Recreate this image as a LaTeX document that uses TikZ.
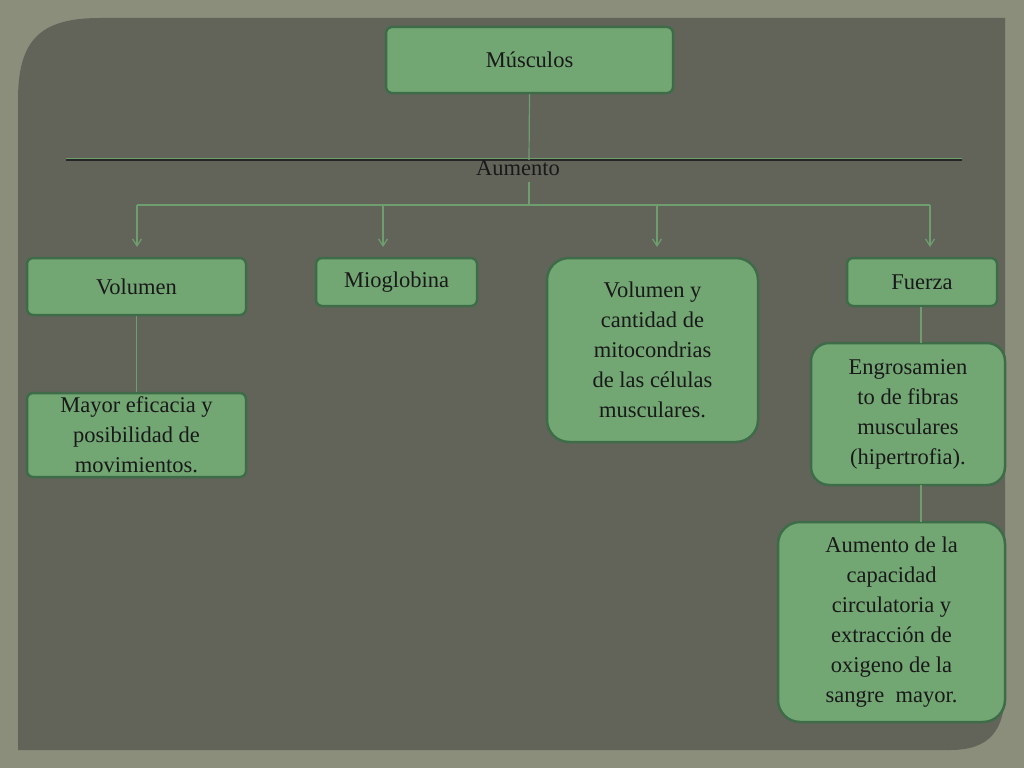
\documentclass[tikz,border=0pt]{standalone}
\usepackage{fontspec}
\setmainfont{Liberation Serif}
\usetikzlibrary{arrows.meta}
\definecolor{frame}{HTML}{8A8E7B}
\definecolor{panel}{HTML}{62645A}
\definecolor{boxfill}{HTML}{72A673}
\definecolor{boxline}{HTML}{3E6B48}
\definecolor{conn}{HTML}{6E9E6E}
\begin{document}
\begin{tikzpicture}[x=1pt,y=-1pt,
  bx/.style={draw=boxline,line width=2.5pt,fill=boxfill,rounded corners=6pt,align=center,font=\fontsize{22.5}{30}\selectfont,text=black!90,inner sep=0pt},
  cn/.style={draw=conn,line width=1.2pt},
  ar/.style={cn,-{Straight Barb[length=7pt,width=9pt]}}]
\fill[frame] (0,0) rectangle (1024,768);
\useasboundingbox (0,0) rectangle (1024,768);
\fill[panel] (100,18) -- (1005,18) -- (1005,690) .. controls (1005,730) and (990,750) .. (950,750) -- (18,750) -- (18,100) .. controls (18,40) and (40,18) .. (100,18) -- cycle;
\node[bx,minimum width=287pt,minimum height=66pt] (m) at (529.5,60) {Músculos};
\coordinate (l1) at (66,160); \coordinate (l2) at (962,160);
\draw[black!85,line width=1.8pt] (l1) -- (l2);
\draw[conn,line width=0.6pt] ([yshift=1.5pt]l1) -- ([yshift=1.5pt]l2);
\node[font=\fontsize{22.5}{26}\selectfont,text=black!90] (au) at (518,168) {Aumento};
\coordinate (c1) at (529,160);
\draw[cn] (m.south) -- (c1);
\coordinate (c2) at (529,182); \coordinate (c3) at (529,205);
\coordinate (h1) at (137,205); \coordinate (h2) at (383,205); \coordinate (h3) at (657,205); \coordinate (h4) at (930,205);
\draw[cn] (c2) -- (c3); \draw[cn] (h1) -- (h4);
\foreach \h in {h1,h2,h3,h4} \draw[ar] (\h) -- ++(0,42);
\node[bx,minimum width=219pt,minimum height=57pt] (v) at (136.5,286.5) {Volumen};
\node[bx,minimum width=161pt,minimum height=48pt] (mi) at (396.5,282) {Mioglobina};
\node[bx,rounded corners=22pt,minimum width=211pt,minimum height=184pt] (vc) at (652.5,350) {Volumen y\\cantidad de\\mitocondrias\\de las células\\musculares.};
\node[bx,minimum width=150pt,minimum height=48pt] (f) at (922,282) {Fuerza};
\node[bx,minimum width=219pt,minimum height=84pt] (me) at (136.5,435) {Mayor eficacia y\\posibilidad de\\movimientos.};
\node[bx,rounded corners=18pt,minimum width=194pt,minimum height=142pt] (en) at (908,414) {Engrosamien\\to de fibras\\musculares\\(hipertrofia).};
\node[bx,rounded corners=22pt,minimum width=227pt,minimum height=200pt] (ac) at (891.5,622) {Aumento de la\\capacidad\\circulatoria y\\extracción de\\oxigeno de la\\sangre~ mayor.};
\draw[cn] (v.south) -- (me.north);
\draw[cn] (f.south -| 921,0) -- (921,343);
\draw[cn] (921,485) -- (921,522);
\end{tikzpicture}
\end{document}
